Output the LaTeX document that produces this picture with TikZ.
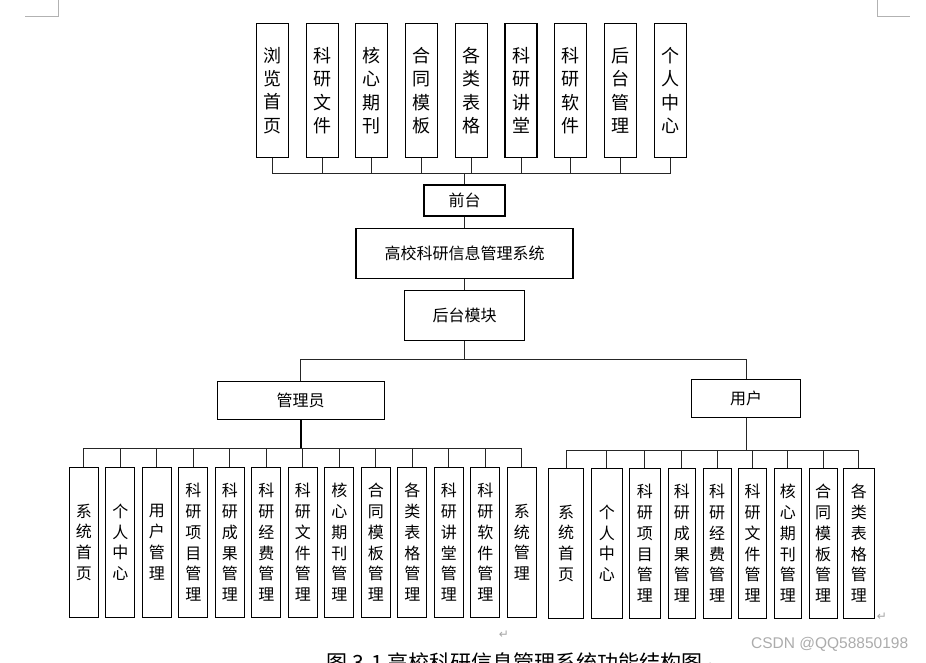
\documentclass[tikz,border=0pt]{standalone}
\usepackage{fontspec}
\setmainfont{Noto Sans CJK SC}
\newfontfamily\arrowfont{DejaVu Sans}
\newfontfamily\markfont{Liberation Sans}
\usetikzlibrary{positioning}

\tikzset{
    topbox/.style={draw, line width=1.1pt, minimum width=32pt, minimum height=134pt, inner sep=0pt, align=center, font=\fontsize{18}{23.3}\selectfont},
    subbox/.style={draw, line width=1.1pt, minimum height=150pt, inner sep=0pt, align=center, font=\fontsize{16}{20.8}\selectfont},
    midbox/.style={draw, line width=1.1pt, inner sep=0pt, font=\fontsize{16}{19}\selectfont},
    link/.style={line width=1pt, black!85},
    pilcrow/.style={gray!70, font=\arrowfont\fontsize{12}{12}\selectfont, inner sep=0pt},
}

\begin{document}
\begin{tikzpicture}[x=1pt, y=-1pt]
    \useasboundingbox (0,0) rectangle (926,662);
    \clip (0,0) rectangle (926,662);
    % page corner marks
    \draw[gray!60, line width=0.8pt] (25,16.7) -- (58.7,16.7) -- (58.7,0);
    \draw[gray!60, line width=0.8pt] (877.3,0) -- (877.3,16.7) -- (910,16.7);

    % middle column
    \node[midbox, minimum width=81pt, minimum height=31pt] (qt) at (464.5,200.5) {前台};
    \node[midbox, minimum width=217pt, minimum height=50pt] (sys) at (464.5,253.3) {高校科研信息管理系统};
    \node[midbox, minimum width=120pt, minimum height=50pt] (ht) at (464.5,315.2) {后台模块};
    \node[midbox, minimum width=167pt, minimum height=38pt] (gly) at (300.7,400.2) {管理员};
    \node[midbox, minimum width=109pt, minimum height=38pt] (yh) at (746.2,398.5) {用户};
    \coordinate (busT) at (464.5,173.3);
    \coordinate (busM) at (464.5,359);
    \coordinate (busA) at (300.7,448.3);
    \coordinate (busU) at (746.2,450);
    \draw[link] (busT) -- (qt.north);
    \draw[link] (qt.south) -- (sys.north);
    \draw[link] (sys.south) -- (ht.north);
    \draw[link] (ht.south) -- (busM);
    \draw[link] (busM) -| (gly.north);
    \draw[link] (busM) -| (yh.north);
    \draw[line width=2.4pt] (gly.south) -- (busA);
    \draw[link] (yh.south) -- (busU);

    % front pages
    \foreach \txt [count=\i from 0] in {{浏\\览\\首\\页},{科\\研\\文\\件},{核\\心\\期\\刊},{合\\同\\模\\板},{各\\类\\表\\格},{科\\研\\讲\\堂},{科\\研\\软\\件},{后\\台\\管\\理},{个\\人\\中\\心}} {
        \pgfmathsetmacro{\x}{272.5+49.7*\i}
        \node[topbox] (f\i) at (\x,90.5) {\txt};
        \draw[link] (f\i.south) |- (busT);
    }

    % admin functions
    \foreach \txt [count=\i from 0] in {{系\\统\\首\\页},{个\\人\\中\\心},{用\\户\\管\\理},{科\\研\\项\\目\\管\\理},{科\\研\\成\\果\\管\\理},{科\\研\\经\\费\\管\\理},{科\\研\\文\\件\\管\\理},{核\\心\\期\\刊\\管\\理},{合\\同\\模\\板\\管\\理},{各\\类\\表\\格\\管\\理},{科\\研\\讲\\堂\\管\\理},{科\\研\\软\\件\\管\\理},{系\\统\\管\\理}} {
        \pgfmathsetmacro{\x}{83.8+36.5*\i}
        \node[subbox, minimum width=29pt] (a\i) at (\x,542.3) {\txt};
        \draw[link] (a\i.north) |- (busA);
    }

    % user functions
    \foreach \x/\w/\txt [count=\i from 0] in {566/34.6/{系\\统\\首\\页},606.9/30.3/{个\\人\\中\\心},644.8/31/{科\\研\\项\\目\\管\\理},681.9/27.7/{科\\研\\成\\果\\管\\理},717.2/27.7/{科\\研\\经\\费\\管\\理},752.5/27.7/{科\\研\\文\\件\\管\\理},787.9/27.7/{核\\心\\期\\刊\\管\\理},823.2/27.7/{合\\同\\模\\板\\管\\理},858.8/31/{各\\类\\表\\格\\管\\理}} {
        \node[subbox, minimum width=\w pt] (u\i) at (\x,543.3) {\txt};
        \draw[link] (u\i.north) |- (busU);
    }

    % marks and caption
    \node[pilcrow] (ret1) at (504,635) {↵};
    \node[pilcrow] (ret2) at (882,617) {↵};
    \node[gray!65, font=\markfont\fontsize{15.5}{16}\selectfont, inner sep=0pt] (wm) at (829.7,644) {CSDN @QQ58850198};
    \node[anchor=north west, inner sep=0pt, font=\fontsize{21}{22}\selectfont] (cap) at (326.7,652.5) {图 3-1 高校科研信息管理系统功能结构图{\color{gray!70}\arrowfont\fontsize{12}{12}\selectfont↵}};
\end{tikzpicture}
\end{document}
